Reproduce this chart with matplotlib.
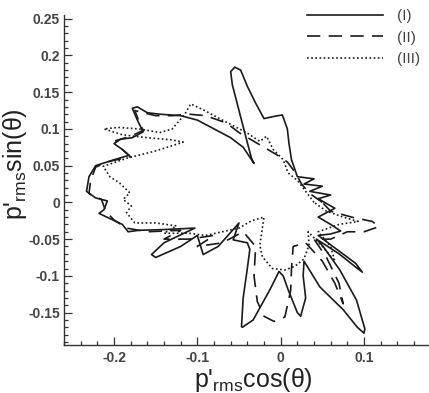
import matplotlib
matplotlib.use("Agg")
import matplotlib.pyplot as plt

plt.rcParams['font.family'] = ['Liberation Sans', 'DejaVu Sans']
plt.rcParams['mathtext.fontset'] = 'custom'
plt.rcParams['mathtext.rm'] = 'Liberation Sans'

# curve (I) - solid, traced counterclockwise from theta = 0
x1 = [0.045, 0.060, 0.035, 0.050, 0.028, 0.040, 0.020, 0.017, 0.013, 0.010,
      0.008, 0.002, -0.008, -0.020, -0.030, -0.040, -0.048, -0.055, -0.060, -0.058,
      -0.050, -0.042, -0.035, -0.032, -0.045, -0.060, -0.080, -0.100, -0.120, -0.145,
      -0.160, -0.172, -0.178, -0.172, -0.165, -0.178, -0.192, -0.200, -0.190, -0.182,
      -0.200, -0.222, -0.230, -0.233, -0.222, -0.208, -0.212, -0.218, -0.205, -0.190,
      -0.183, -0.170, -0.140, -0.103, -0.140, -0.155, -0.150, -0.120, -0.100, -0.093,
      -0.075, -0.050, -0.057, -0.040, -0.037, -0.040, -0.045, -0.047, -0.046, -0.033,
      -0.013, -0.002, 0.003, 0.009, 0.020, 0.024, 0.030, 0.027, 0.028, 0.047,
      0.075, 0.092, 0.100, 0.101, 0.091, 0.071, 0.051, 0.043, 0.070, 0.090,
      0.098, 0.090, 0.065, 0.045, 0.060, 0.072, 0.060, 0.045, 0.065, 0.045]
y1 = [0.005, 0.010, 0.015, 0.022, 0.025, 0.032, 0.035, 0.045, 0.058, 0.080,
      0.100, 0.119, 0.117, 0.114, 0.135, 0.158, 0.180, 0.184, 0.178, 0.160,
      0.125, 0.090, 0.060, 0.053, 0.075, 0.088, 0.100, 0.112, 0.118, 0.120,
      0.122, 0.130, 0.128, 0.112, 0.096, 0.088, 0.086, 0.080, 0.072, 0.064,
      0.058, 0.050, 0.035, 0.015, 0.006, 0.002, -0.010, -0.015, -0.022, -0.030,
      -0.040, -0.038, -0.037, -0.035, -0.055, -0.071, -0.075, -0.060, -0.045, -0.071,
      -0.060, -0.028, -0.051, -0.055, -0.064, -0.090, -0.130, -0.169, -0.170, -0.160,
      -0.119, -0.094, -0.100, -0.119, -0.150, -0.155, -0.130, -0.100, -0.080, -0.115,
      -0.146, -0.170, -0.178, -0.172, -0.133, -0.092, -0.060, -0.050, -0.070, -0.088,
      -0.095, -0.083, -0.062, -0.045, -0.043, -0.039, -0.030, -0.020, -0.008, 0.005]

# curve (II) - dashed
x2 = [0.050, 0.035, 0.025, 0.018, 0.008, -0.005, -0.020, -0.035, -0.050, -0.065,
      -0.075, -0.090, -0.110, -0.130, -0.150, -0.165, -0.175, -0.170, -0.165, -0.180,
      -0.198, -0.190, -0.180, -0.205, -0.222, -0.228, -0.230, -0.215, -0.210, -0.200,
      -0.185, -0.160, -0.120, -0.140, -0.110, -0.080, -0.100, -0.070, -0.045, -0.030,
      -0.032, -0.028, -0.020, -0.008, 0.005, 0.012, 0.013, 0.015, 0.030, 0.050,
      0.065, 0.075, 0.070, 0.055, 0.040, 0.060, 0.080, 0.100, 0.118, 0.110,
      0.085, 0.060, 0.050]
y2 = [0.000, 0.012, 0.025, 0.040, 0.055, 0.065, 0.075, 0.085, 0.095, 0.108,
      0.112, 0.118, 0.120, 0.118, 0.118, 0.122, 0.125, 0.110, 0.098, 0.090,
      0.084, 0.072, 0.062, 0.056, 0.048, 0.030, 0.012, 0.004, -0.012, -0.024,
      -0.035, -0.040, -0.038, -0.050, -0.050, -0.045, -0.060, -0.055, -0.040, -0.060,
      -0.100, -0.135, -0.155, -0.162, -0.156, -0.120, -0.090, -0.060, -0.055, -0.080,
      -0.110, -0.138, -0.110, -0.075, -0.050, -0.050, -0.040, -0.040, -0.033, -0.026,
      -0.020, -0.012, 0.000]

# curve (III) - dotted
x3 = [0.040, 0.030, 0.020, 0.009, 0.003, -0.009, -0.017, -0.025, -0.041, -0.065,
      -0.093, -0.108, -0.115, -0.130, -0.145, -0.170, -0.195, -0.212, -0.190, -0.160,
      -0.130, -0.117, -0.150, -0.185, -0.213, -0.205, -0.193, -0.181, -0.189, -0.179,
      -0.185, -0.175, -0.150, -0.125, -0.140, -0.110, -0.090, -0.070, -0.050, -0.035,
      -0.020, -0.022, -0.025, -0.022, -0.010, 0.005, 0.017, 0.028, 0.034, 0.033,
      0.050, 0.065, 0.060, 0.045, 0.070, 0.093, 0.075, 0.055, 0.040]
y3 = [0.000, 0.015, 0.030, 0.040, 0.058, 0.072, 0.090, 0.083, 0.095, 0.109,
      0.126, 0.134, 0.120, 0.100, 0.095, 0.100, 0.102, 0.100, 0.092, 0.088,
      0.085, 0.082, 0.070, 0.060, 0.049, 0.035, 0.026, 0.013, 0.004, -0.005,
      -0.014, -0.028, -0.028, -0.032, -0.042, -0.042, -0.045, -0.040, -0.035, -0.025,
      -0.020, -0.035, -0.058, -0.074, -0.090, -0.092, -0.087, -0.077, -0.058, -0.040,
      -0.060, -0.080, -0.060, -0.040, -0.030, -0.026, -0.020, -0.012, 0.000]

labels = ['(I)', '(II)', '(III)']

fig = plt.figure(figsize=(4.29, 3.93), dpi=100)
ax = fig.add_axes([64 / 429, 1 - 345.3 / 393, 365 / 429, 330.3 / 393])

lc = '#1a1a1a'
ax.plot(x1, y1, color=lc, lw=1.2, ls='-', label=labels[0])
ax.plot(x2, y2, color=lc, lw=1.2, ls=(0, (8, 5)), label=labels[1])
ax.plot(x3, y3, color=lc, lw=1.2, ls=(0, (1, 1.5)), label=labels[2])

ax.set_xlim(-0.26, 0.178)
ax.set_ylim(-0.1945, 0.255)
ax.set_xticks([-0.2, -0.1, 0, 0.1])
ax.set_xticklabels(['-0.2', '-0.1', '0', '0.1'])
ax.set_yticks([-0.15, -0.1, -0.05, 0, 0.05, 0.1, 0.15, 0.2, 0.25])
ax.set_yticklabels(['-0.15', '-0.1', '-0.05', '0', '0.05', '0.1', '0.15', '0.2', '0.25'])
ax.set_xticks([v / 100 for v in range(-26, 18, 2)], minor=True)
ax.set_yticks([v / 100 for v in range(-19, 26)], minor=True)

for s in ['top', 'right']:
    ax.spines[s].set_visible(False)
for s in ['left', 'bottom']:
    ax.spines[s].set_color('#333333')
    ax.spines[s].set_linewidth(1.0)
ax.tick_params(which='both', direction='in', color='#333333', width=0.9)
ax.tick_params(which='major', length=5.5, labelsize=10, labelcolor='#444444', pad=3)
ax.tick_params(which='minor', length=2.8)
for t in ax.get_xticklabels() + ax.get_yticklabels():
    t.set_fontweight('bold')
ax.tick_params(axis='x', pad=4)

ax.set_xlabel(r"p'$_{\mathregular{rms}}$cos(θ)", fontsize=18, color='#222222')
ax.set_ylabel(r"p'$_{\mathregular{rms}}$sin(θ)", fontsize=18, color='#222222')
ax.xaxis.set_label_coords(0.52, -0.064)
ax.yaxis.set_label_coords(-0.095, 0.55)

fig.legend(loc='upper right', bbox_to_anchor=(1.0, 1.0), frameon=False,
           fontsize=11, handlelength=5.0, handletextpad=0.9, labelspacing=0.5,
           borderaxespad=0.2, labelcolor='#444444')

fig.savefig('out.png', dpi=100)
